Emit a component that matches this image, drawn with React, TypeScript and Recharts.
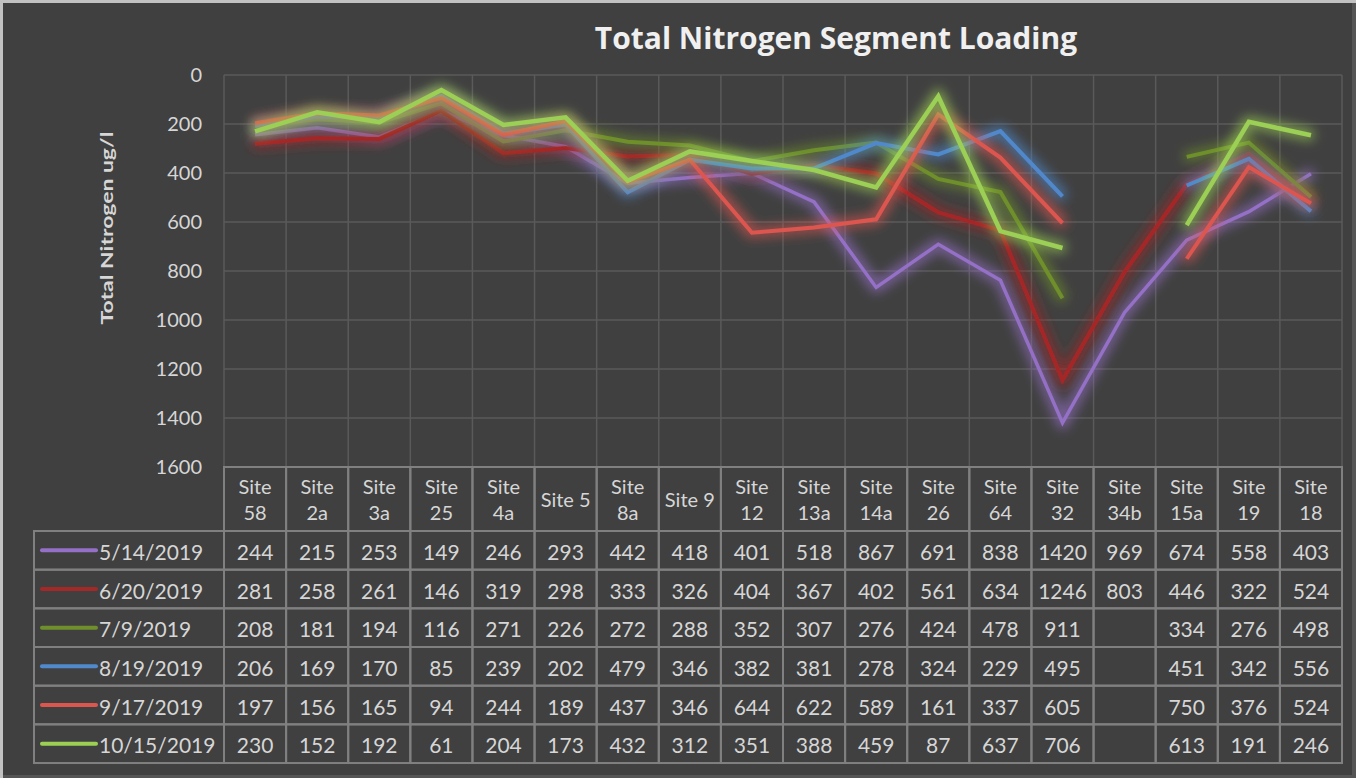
import { CartesianGrid, Line, LineChart, XAxis, YAxis } from 'recharts';

const sites = [
  'Site 58', 'Site 2a', 'Site 3a', 'Site 25', 'Site 4a', 'Site 5', 'Site 8a', 'Site 9', 'Site 12',
  'Site 13a', 'Site 14a', 'Site 26', 'Site 64', 'Site 32', 'Site 34b', 'Site 15a', 'Site 19', 'Site 18',
];

const may14 = [244, 215, 253, 149, 246, 293, 442, 418, 401, 518, 867, 691, 838, 1420, 969, 674, 558, 403];
const jun20 = [281, 258, 261, 146, 319, 298, 333, 326, 404, 367, 402, 561, 634, 1246, 803, 446, 322, 524];
const jul9 = [208, 181, 194, 116, 271, 226, 272, 288, 352, 307, 276, 424, 478, 911, null, 334, 276, 498];
const aug19 = [206, 169, 170, 85, 239, 202, 479, 346, 382, 381, 278, 324, 229, 495, null, 451, 342, 556];
const sep17 = [197, 156, 165, 94, 244, 189, 437, 346, 644, 622, 589, 161, 337, 605, null, 750, 376, 524];
const oct15 = [230, 152, 192, 61, 204, 173, 432, 312, 351, 388, 459, 87, 637, 706, null, 613, 191, 246];

const yTicks = [0, 200, 400, 600, 800, 1000, 1200, 1400, 1600];

const series = [
  { key: 'may14', name: '5/14/2019', values: may14, color: '#9470c6', width: 3.5 },
  { key: 'jun20', name: '6/20/2019', values: jun20, color: '#a52828', width: 4 },
  { key: 'jul9', name: '7/9/2019', values: jul9, color: '#6e8f2c', width: 4 },
  { key: 'aug19', name: '8/19/2019', values: aug19, color: '#5089cc', width: 4 },
  { key: 'sep17', name: '9/17/2019', values: sep17, color: '#dc5650', width: 4 },
  { key: 'oct15', name: '10/15/2019', values: oct15, color: '#9ccf54', width: 4.5 },
];

const data = sites.map((site, i) => {
  const row: Record<string, string | number | null> = { site };
  series.forEach((s) => {
    row[s.key] = s.values[i];
  });
  return row;
});

// layout
const W = 1356;
const H = 778;
const PLOT_LEFT = 224;
const PLOT_RIGHT = 1342;
const PLOT_TOP = 75;
const PLOT_BOTTOM = 467;
const HEADER_H = 64;
const ROW_H = 38.67;
const TABLE_BOTTOM = PLOT_BOTTOM + HEADER_H + ROW_H * series.length;
const LEGEND_LEFT = 34;

const BG = '#404040';
const GRID = '#5a5a5a';
const BORDER = '#808080';
const TEXT = '#d6d6d6';
const FONT = 'Lato, "Open Sans", sans-serif';

function TableColumn(props: any) {
  const { x, y, payload } = props;
  const index = props.index ?? payload.index;
  const colW = (PLOT_RIGHT - PLOT_LEFT) / sites.length;
  const left = x - colW / 2;
  const label: string = payload.value;
  const lines = label.length > 6 ? label.split(' ') : [label];
  return (
    <g>
      <rect x={left} y={y} width={colW} height={HEADER_H} fill="none" stroke={BORDER} strokeWidth={2} />
      {lines.map((t, k) => (
        <text
          key={k}
          x={x}
          y={y + HEADER_H / 2 + (k - (lines.length - 1) / 2) * 26}
          textAnchor="middle"
          dominantBaseline="central"
          fill={TEXT}
          fontSize={20}
          fontFamily={FONT}
        >
          {t}
        </text>
      ))}
      {series.map((s, r) => {
        const top = y + HEADER_H + r * ROW_H;
        const v = s.values[index];
        return (
          <g key={s.key}>
            <rect x={left} y={top} width={colW} height={ROW_H} fill="none" stroke={BORDER} strokeWidth={2} />
            {v != null && (
              <text
                x={x}
                y={top + ROW_H / 2 + 1}
                textAnchor="middle"
                dominantBaseline="central"
                fill={TEXT}
                fontSize={21}
                fontFamily={FONT}
              >
                {v}
              </text>
            )}
          </g>
        );
      })}
    </g>
  );
}

export default function App() {
  return (
    <div
      style={{
        position: 'absolute',
        left: 0,
        top: 0,
        width: W,
        height: H,
        background: BG,
        overflow: 'hidden',
      }}
    >
      <style>{`.glow-line path { filter: url(#glow); }`}</style>
      <svg width={W} height={H} style={{ position: 'absolute', left: 0, top: 0 }}>
        <defs>
          <filter id="glow" filterUnits="userSpaceOnUse" x={0} y={0} width={W} height={H}>
            <feMorphology in="SourceGraphic" operator="dilate" radius={3} result="fat" />
            <feGaussianBlur in="fat" stdDeviation={6} result="blur" />
            <feComponentTransfer in="blur" result="soft">
              <feFuncA type="linear" slope={0.65} />
            </feComponentTransfer>
            <feMerge>
              <feMergeNode in="soft" />
              <feMergeNode in="SourceGraphic" />
            </feMerge>
          </filter>
        </defs>
        {/* legend column of the data table */}
        {series.map((s, r) => {
          const top = PLOT_BOTTOM + HEADER_H + r * ROW_H;
          return (
            <g key={s.key}>
              <rect
                x={LEGEND_LEFT}
                y={top}
                width={PLOT_LEFT - LEGEND_LEFT}
                height={ROW_H}
                fill="none"
                stroke={BORDER}
                strokeWidth={2}
              />
              <line
                x1={42}
                x2={96}
                y1={top + ROW_H / 2}
                y2={top + ROW_H / 2}
                stroke={s.color}
                strokeWidth={4}
                strokeLinecap="round"
              />
              <text
                x={99}
                y={top + ROW_H / 2 + 1}
                dominantBaseline="central"
                fill={TEXT}
                fontSize={21}
                fontFamily={FONT}
              >
                {s.name}
              </text>
            </g>
          );
        })}
      </svg>

      <div style={{ position: 'absolute', left: 0, top: 0 }}>
        <LineChart
          width={W}
          height={H}
          data={data}
          margin={{ top: PLOT_TOP, right: W - PLOT_RIGHT, bottom: H - TABLE_BOTTOM, left: 0 }}
        >
          <CartesianGrid
            stroke={GRID}
            strokeWidth={1.5}
            verticalCoordinatesGenerator={({ offset }: any) =>
              sites.map((_, i) => offset.left + (i * offset.width) / sites.length).concat(offset.left + offset.width)
            }
          />
          <XAxis
            dataKey="site"
            type="category"
            scale="band"
            interval={0}
            axisLine={false}
            tickLine={false}
            tickSize={0}
            tickMargin={0}
            height={TABLE_BOTTOM - PLOT_BOTTOM}
            tick={<TableColumn />}
          />
          <YAxis
            type="number"
            domain={[0, 1600]}
            ticks={yTicks}
            interval={0}
            reversed
            width={PLOT_LEFT}
            axisLine={false}
            tickLine={false}
            tickMargin={16}
            tick={{ fill: TEXT, fontSize: 20, fontFamily: FONT }}
          />
          {series.map((s) => (
            <Line
              key={s.key}
              className="glow-line"
              dataKey={s.key}
              name={s.name}
              type="linear"
              stroke={s.color}
              strokeWidth={s.width}
              dot={false}
              activeDot={false}
              connectNulls={false}
              isAnimationActive={false}
            />
          ))}
        </LineChart>
      </div>

      <div
        style={{
          position: 'absolute',
          left: 0,
          width: 1672,
          top: 17,
          textAlign: 'center',
          color: '#f0f0f0',
          fontFamily: '"Open Sans", sans-serif',
          fontWeight: 700,
          fontSize: 30,
          lineHeight: '42px',
        }}
      >
        Total Nitrogen Segment Loading
      </div>

      <div
        style={{
          position: 'absolute',
          left: 106,
          top: 228,
          transform: 'translate(-50%, -50%) rotate(-90deg) scaleX(1.35)',
          whiteSpace: 'nowrap',
          color: TEXT,
          fontFamily: FONT,
          fontWeight: 700,
          fontSize: 17,
        }}
      >
        Total Nitrogen ug/l
      </div>

      <div
        style={{
          position: 'absolute',
          inset: 0,
          pointerEvents: 'none',
          boxShadow: 'inset 3px 3px 0 #c2c2c2, inset -4px -3px 0 #555555',
        }}
      />
    </div>
  );
}
